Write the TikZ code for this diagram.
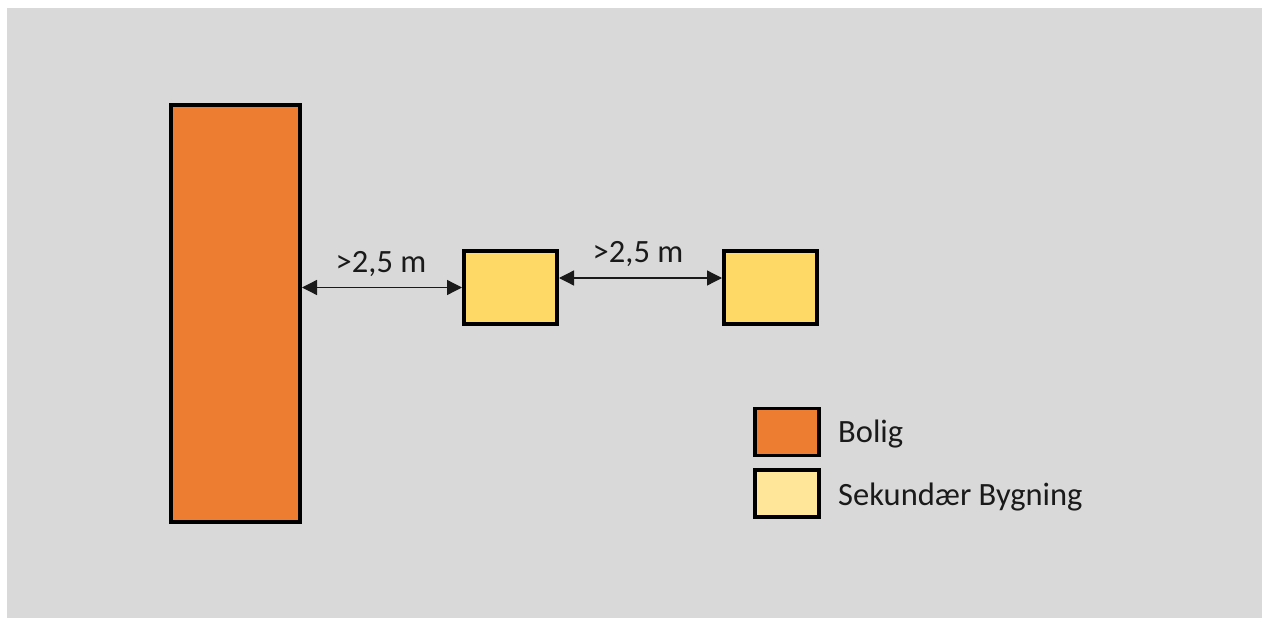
\documentclass[tikz,border=0pt]{standalone}
\usepackage{fontspec}
\setmainfont{Carlito}
\usetikzlibrary{positioning,arrows.meta}

\definecolor{bggray}{HTML}{D9D9D9}
\definecolor{boligorange}{HTML}{ED7D31}
\definecolor{sekyellow}{HTML}{FFD966}
\definecolor{legyellow}{HTML}{FFE699}
\definecolor{textdark}{HTML}{1A1A1A}

\begin{document}
\begin{tikzpicture}[x=1pt,y=-1pt]
		\tikzset{building/.style={draw,
								  rectangle,
								  line width=4pt,
								  inner sep=0pt},
				 bolig/.style={building,
							   fill=boligorange,
							   minimum width=129pt,
							   minimum height=417pt},
				 sekundaer/.style={building,
								   fill=sekyellow,
								   minimum width=93pt,
								   minimum height=73pt},
				 legbox/.style={building,
								line width=3.5pt,
								minimum width=64pt,
								minimum height=47pt},
				 label/.style={inner sep=0pt,
							   text=textdark,
							   font=\fontsize{32.5}{38}\selectfont},
				 arrow/.style={{Triangle[length=15pt,width=15pt]}-{Triangle[length=15pt,width=15pt]},
							   line width=1.3pt,
							   textdark}}
		\useasboundingbox (0,0) rectangle (1262,618);
		\fill[bggray] (7,8) rectangle (1262,618);

		% Nodes
		\node[bolig] (house) at (235.5,313.5) {};
		\node[sekundaer] (shedA) at (510.5,287.5) {};
		\node[sekundaer] (shedB) at (770.5,287.5) {};

		% Arrows
		\draw[arrow] (house.east |- shedA.west) -- (shedA.west);
		\draw[arrow] ([yshift=9.5pt]shedA.east) -- ([yshift=9.5pt]shedB.west);
		\node[label, anchor=base] (distA) at (381,272) {>2,5 m};
		\node[label, anchor=base] (distB) at (638,262) {>2,5 m};

		% Legend
		\node[legbox, fill=boligorange] (legHouse) at (787,432) {};
		\node[legbox, fill=legyellow, below=11pt of legHouse] (legShed) {};
		\node[label, anchor=base west] (legHouseText) at (838,442) {Bolig};
		\node[label, anchor=base west] (legShedText) at (838,505) {Sekundær Bygning};
	\end{tikzpicture}
\end{document}
